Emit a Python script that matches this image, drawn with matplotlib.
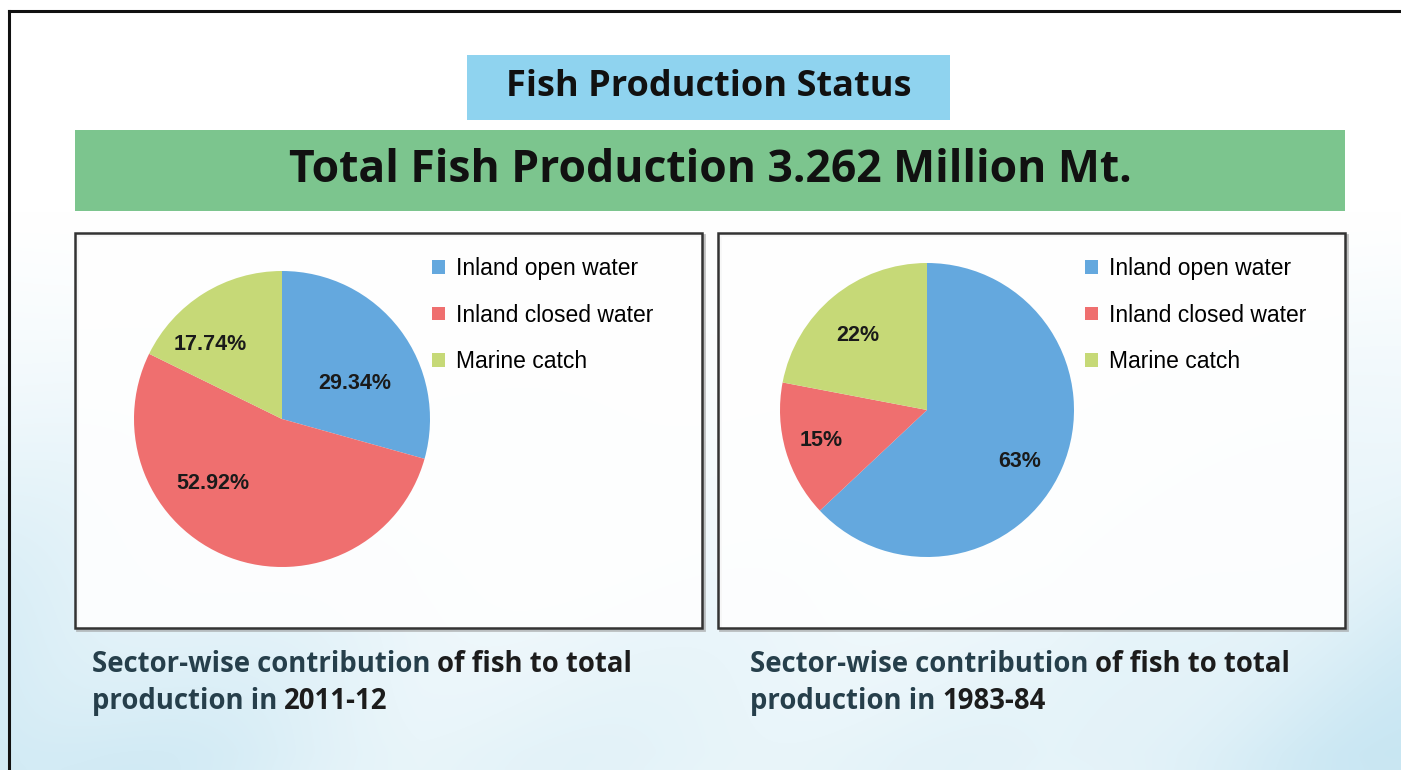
import numpy as np
import matplotlib
matplotlib.use('Agg')
import matplotlib.pyplot as plt
from matplotlib.patches import Rectangle
from matplotlib.lines import Line2D
from matplotlib.offsetbox import TextArea, HPacker, VPacker, AnchoredOffsetbox

# Dane
sectors = ['Inland open water', 'Inland closed water', 'Marine catch']
share_2011 = [29.34, 52.92, 17.74]
share_1983 = [63, 15, 22]
sector_colors = ['#64a8de', '#ef6f6f', '#c6d977']

title_top = 'Fish Production Status'
title_main = 'Total Fish Production 3.262 Million Mt.'
caption_2011 = [('Sector-wise contribution', 'of fish to total'), ('production in', '2011-12')]
caption_1983 = [('Sector-wise contribution', 'of fish to total'), ('production in', '1983-84')]

W, H = 1401, 770
fig = plt.figure(figsize=(W / 100, H / 100), dpi=100)
fig.patch.set_facecolor('white')


def box(x0, y0, x1, y1):
    # piksele (od góry) -> współrzędne figury
    return [x0 / W, 1 - y1 / H, (x1 - x0) / W, (y1 - y0) / H]


# Tło: jasnoniebieska mgiełka u dołu
bg = fig.add_axes([0, 0, 1, 1], zorder=0)
u = np.linspace(0, 1, 400)[None, :]
v = np.linspace(0, 1, 220)[:, None]
side = 0.5 + 0.5 * np.clip(np.maximum((0.3 - u) / 0.3, (u - 0.75) / 0.25), 0, 1)
tint = np.clip((v - 0.28) / 0.7, 0, 1) ** 1.1 * side
tint = tint * (0.9 + 0.1 * np.sin(u * 23 + v * 11))
tint = np.clip(tint, 0, 1)
base = np.array([0.78, 0.90, 0.95])
img = np.ones((220, 400, 3)) * (1 - tint[..., None]) + base * tint[..., None]
bg.imshow(img, extent=[0, 1, 0, 1], aspect='auto', origin='upper', interpolation='bicubic')
bg.set_xlim(0, 1)
bg.set_ylim(0, 1)
bg.axis('off')

# Ramka (góra i lewa strona)
fig.add_artist(Line2D([9 / W, 9 / W], [0, 1 - 11 / H], color='#111111', lw=2.2, zorder=5))
fig.add_artist(Line2D([9 / W, 1], [1 - 11 / H, 1 - 11 / H], color='#111111', lw=2.2, zorder=5))

# Nagłówki
b = box(467, 55, 950, 120)
fig.add_artist(Rectangle((b[0], b[1]), b[2], b[3], transform=fig.transFigure,
                         facecolor='#8fd3ef', edgecolor='none', zorder=2))
fig.text(b[0] + b[2] / 2, b[1] + b[3] / 2, title_top, ha='center', va='center',
         fontsize=26, fontweight='bold', family='Open Sans', color='#111111', zorder=3)

b = box(75, 130, 1345, 211)
fig.add_artist(Rectangle((b[0], b[1]), b[2], b[3], transform=fig.transFigure,
                         facecolor='#7cc58e', edgecolor='none', zorder=2))
fig.text(b[0] + b[2] / 2, b[1] + b[3] / 2, title_main, ha='center', va='center',
         fontsize=32, fontweight='bold', family='Open Sans', color='#111111', zorder=3)

# Panele z wykresami
panels = [
    dict(frame=(75, 233, 702, 628), pie=(134, 271, 430, 567), legend=(432, 257),
         values=share_2011, fmt='%.2f%%',
         label_pos=[(0.55, 26), (0.64, -137), (0.70, 134)],
         caption=caption_2011, cap_xy=(92, 650)),
    dict(frame=(718, 233, 1345, 628), pie=(780, 263, 1074, 557), legend=(1085, 257),
         values=share_1983, fmt='%.0f%%',
         label_pos=[(0.72, -29), (0.75, 196), (0.69, 133)],
         caption=caption_1983, cap_xy=(750, 650)),
]

for p in panels:
    b = box(*p['frame'])
    # cień ramki
    fig.add_artist(Rectangle((b[0] + 1.5 / W, b[1] - 1.5 / H), b[2], b[3],
                             transform=fig.transFigure, facecolor='none',
                             edgecolor='#999999', lw=2, alpha=0.6, zorder=2))
    fig.add_artist(Rectangle((b[0], b[1]), b[2], b[3], transform=fig.transFigure,
                             facecolor='white', alpha=0.88, edgecolor='none', zorder=2))
    fig.add_artist(Rectangle((b[0], b[1]), b[2], b[3], transform=fig.transFigure,
                             facecolor='none', edgecolor='#333333', lw=1.8, zorder=3))

    ax = fig.add_axes(box(*p['pie']), zorder=4)
    wedges, texts, autotexts = ax.pie(p['values'], colors=sector_colors, startangle=90,
                                      counterclock=False, autopct=p['fmt'],
                                      pctdistance=0.72, wedgeprops=dict(linewidth=0))
    for t, (r, ang) in zip(autotexts, p['label_pos']):
        t.set_fontsize(15.5)
        t.set_fontweight('bold')
        t.set_family('Liberation Sans')
        t.set_color('#1a1a1a')
        t.set_position((r * np.cos(np.radians(ang)), r * np.sin(np.radians(ang))))
    ax.set_xlim(-1, 1)
    ax.set_ylim(-1, 1)
    ax.set_aspect('equal')
    ax.axis('off')

    lx, ly = p['legend']
    ax.legend(wedges, sectors, loc='upper left', bbox_to_anchor=(lx / W, 1 - ly / H),
              bbox_transform=fig.transFigure, frameon=False, borderaxespad=0, borderpad=0,
              handlelength=0.55, handleheight=0.55, handletextpad=0.5, labelspacing=1.03,
              prop=dict(family='Liberation Sans', size=16.5))

    # Podpis pod panelem
    cx, cy = p['cap_xy']
    rows = []
    for light, dark in p['caption']:
        a1 = TextArea(light, textprops=dict(family='Open Sans', fontweight='bold', size=19.8,
                                            color='#263f4b'))
        a2 = TextArea(dark, textprops=dict(family='Open Sans', fontweight='bold', size=19.8,
                                           color='#1c1c1c'))
        rows.append(HPacker(children=[a1, a2], align='baseline', pad=0, sep=5))
    cap = VPacker(children=rows, align='left', pad=0, sep=6)
    fig.add_artist(AnchoredOffsetbox(loc='upper left', child=cap, frameon=False, pad=0,
                                     borderpad=0, bbox_to_anchor=(cx / W, 1 - cy / H),
                                     bbox_transform=fig.transFigure, zorder=5))

fig.savefig('out.png', dpi=100)
